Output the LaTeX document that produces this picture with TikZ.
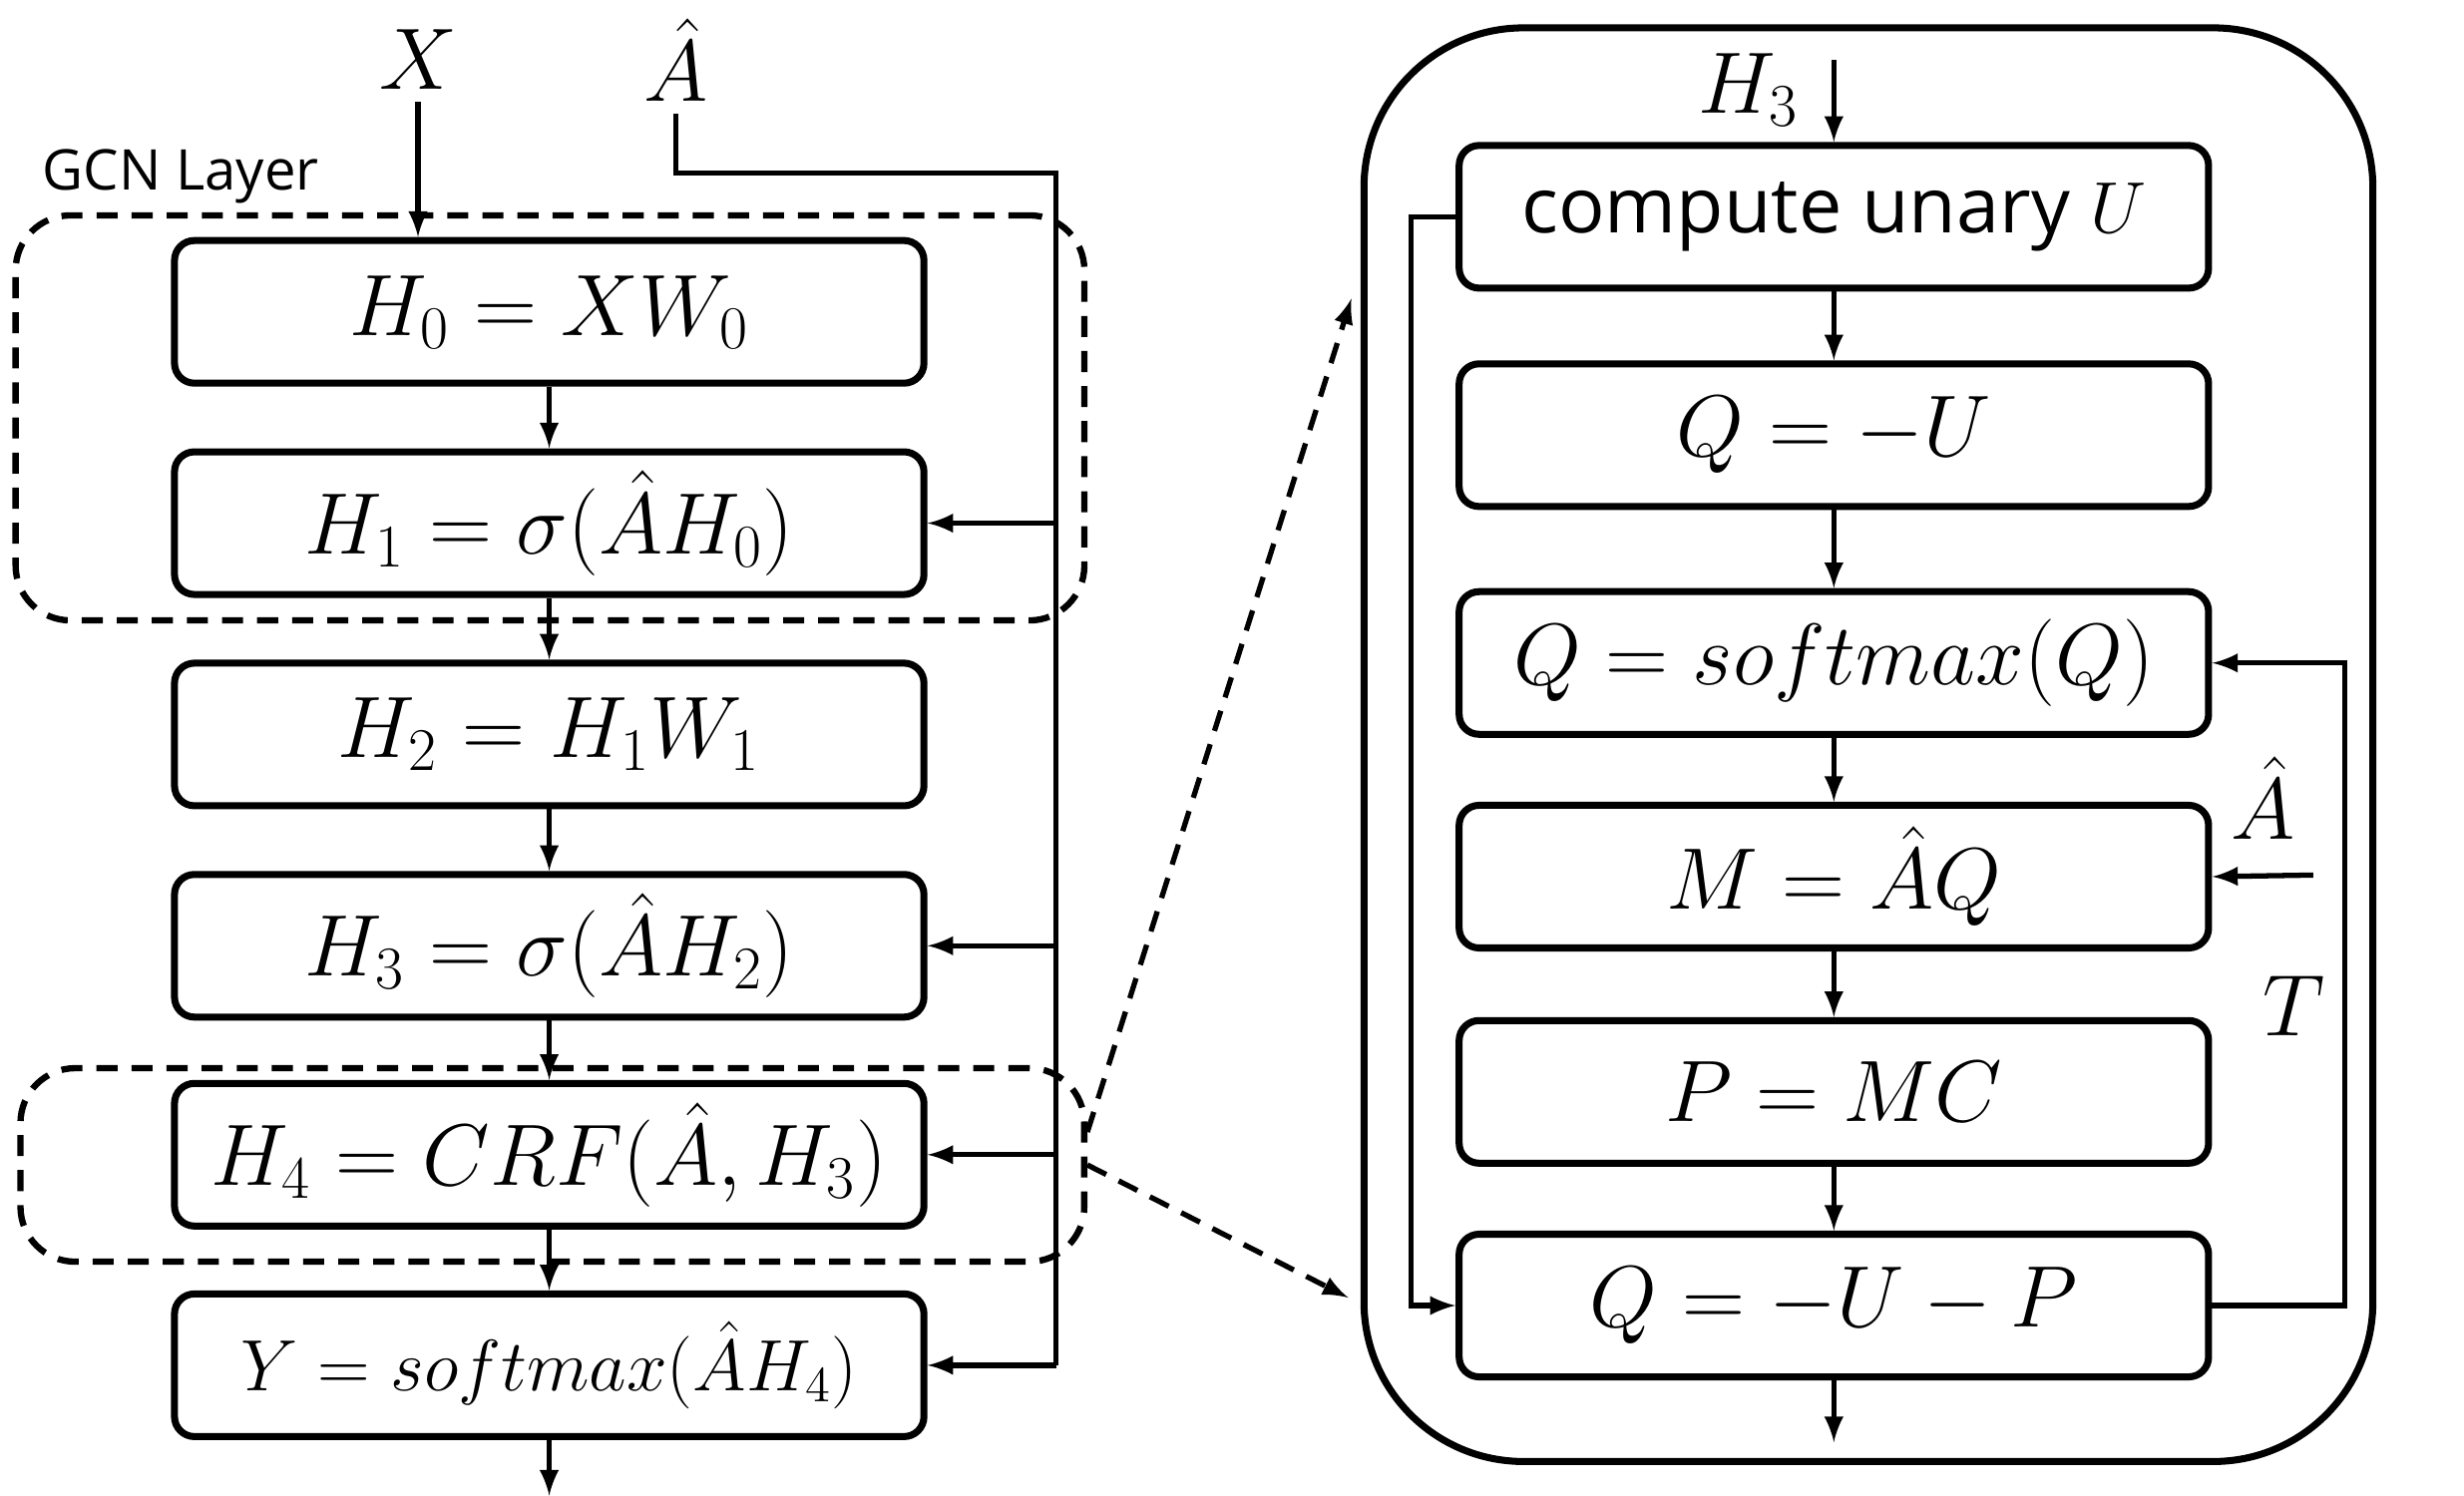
\documentclass[tikz,border=0pt]{standalone}
\usepackage[no-math]{fontspec}
\setmainfont{Open Sans}

\tikzset{
  stepbox/.style={draw, line width=2pt, rounded corners=0.2cm,
    minimum width=7.51cm, minimum height=1.43cm},
  layerbox/.style={draw, line width=1.8pt, dash pattern=on 6pt off 4pt,
    rounded corners=0.55cm},
  flow/.style={->, >=latex, line width=1.5pt},
}

\begin{document}
\begin{tikzpicture}[x=0.015753cm, y=-0.015753cm, font=\fontsize{23}{28}\selectfont]
        \useasboundingbox (0,0) rectangle (1568,952);
        % nodes
        \node[stepbox] (h0) at (349.5,198.5) {$H_0 = XW_0$};
        \node[stepbox] (h1) at (349.5,333) {$H_1 = \sigma(\hat{A}H_0)$};
        \node[stepbox] (h2) at (349.5,467.5) {$H_2 = H_1W_1$};
        \node[stepbox] (h3) at (349.5,602) {$H_3 = \sigma(\hat{A}H_2)$};
        \node[stepbox] (h4) at (349.5,735) {$H_4 = CRF(\hat{A},H_3)$};
        \node[stepbox, font=\fontsize{21}{26}\selectfont] (y) at (349.5,869) {$Y = softmax(\hat{A}H_4)$};
        \node[layerbox, minimum width=10.71cm, minimum height=4.06cm] (gcn) at (350,266) {};
        \node[layerbox, minimum width=10.66cm, minimum height=1.94cm] (crfl) at (351.5,741.5) {};
        \node[draw, line width=2pt, rounded corners=1.6cm,
          minimum width=10.11cm, minimum height=14.37cm] (crf) at (1189,474) {};
        \node[stepbox, font=\fontsize{22}{26}\selectfont] (cu) at (1167,138) {compute unary $U$};
        \node[stepbox] (q0) at (1167,277) {$Q = -U$};
        \node[stepbox] (qs) at (1167,422) {$Q = softmax(Q)$};
        \node[stepbox] (m) at (1167,558) {$M = \hat{A}Q$};
        \node[stepbox] (p) at (1167,695) {$P = MC$};
        \node[stepbox] (q1) at (1167,831) {$Q = -U - P$};
        % labels
        \node (x) at (266,38) {$X$};
        \node (ahat) at (430,38) {$\hat{A}$};
        \node[font=\fontsize{16}{18}\selectfont] (gcnlabel) at (115,112) {GCN Layer};
        \node (h3lab) at (1113,57) {$H_3$};
        \node (ahatr) at (1440,508) {$\hat{A}$};
        \node (t) at (1460,640) {$T$};
        \coordinate (bus) at (672,110);
        \coordinate (yout) at (349.5,952);
        \coordinate (h3in) at (1167,38);
        \coordinate (qout) at (1167,918);
        \coordinate (loopl) at (898,0);
        \coordinate (loopr) at (1492,0);
        \coordinate (ain) at (1472,557);
        \coordinate (zoomtop) at (860,190);
        \coordinate (zoombot) at (858,826);
        % edges
        \draw[flow] (x.south) -- (x.south |- h0.north);
        \draw[line width=1.5pt] (ahat.south) |- (bus) -- (bus |- y.east);
        \foreach \n in {h1,h3,h4,y}
          \draw[flow] (bus |- \n.east) -- (\n.east);
        \draw[flow] (h0) -- (h1);
        \draw[flow] (h1) -- (h2);
        \draw[flow] (h2) -- (h3);
        \draw[flow] (h3) -- (h4);
        \draw[flow] (h4) -- (y);
        \draw[flow] (y) -- (yout);
        \draw[flow] (h3in) -- (cu);
        \draw[flow] (cu) -- (q0);
        \draw[flow] (q0) -- (qs);
        \draw[flow] (qs) -- (m);
        \draw[flow] (m) -- (p);
        \draw[flow] (p) -- (q1);
        \draw[flow] (q1) -- (qout);
        \draw[flow] (cu.west) -- (loopl |- cu.west) -- (loopl |- q1.west) -- (q1.west);
        \draw[flow] (q1.east) -- (loopr |- q1.east) -- (loopr |- qs.east) -- (qs.east);
        \draw[flow] (ain) -- (m.east);
        % other
        \draw[flow, dash pattern=on 6pt off 4pt] ([yshift=0.33cm]crfl.east) -- (zoomtop);
        \draw[flow, dash pattern=on 6pt off 4pt] (crfl.east) -- (zoombot);
      \end{tikzpicture}
\end{document}
